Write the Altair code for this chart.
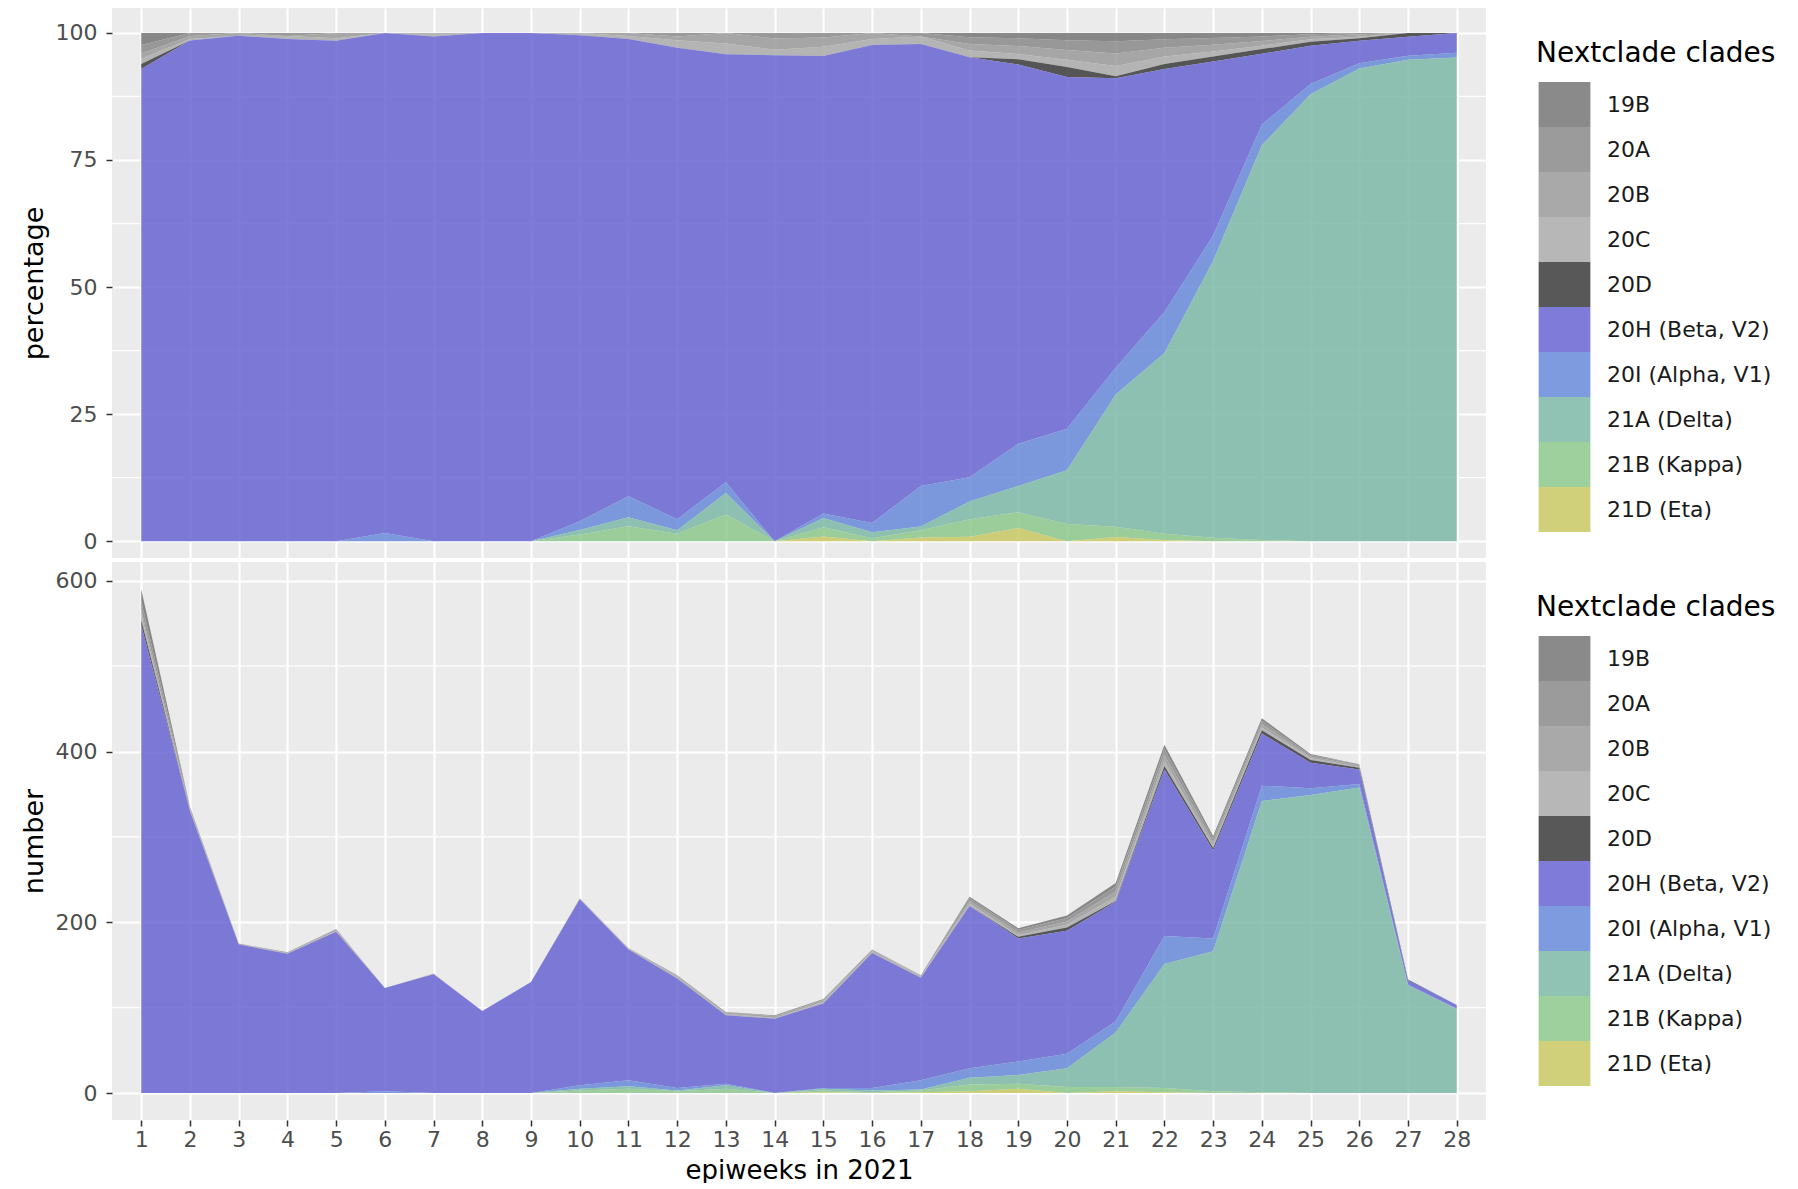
import altair as alt
import pandas as pd

# ---------------- data ----------------
weeks = list(range(1, 29))

clades = ["19B", "20A", "20B", "20C", "20D",
          "20H (Beta, V2)", "20I (Alpha, V1)", "21A (Delta)", "21B (Kappa)", "21D (Eta)"]

clade_colors = ["#757575", "#898989", "#9a9a9a", "#aaaaaa", "#3b3b3b",
                "#6764d2", "#6789d9", "#7eb8a8", "#8dc88d", "#c8c864"]

n_19B = [14, 0, 0, 0, 0, 0, 0, 0, 0, 0, 0, 0, 0, 0, 0, 0, 0, 2, 2, 3, 4, 5, 3, 3, 1, 0, 0, 0]
n_20A = [10, 2, 0, 1, 0, 0, 0, 0, 0, 0, 0, 1, 0, 1, 1, 0, 1, 3, 3, 4, 6, 7, 4, 4, 2, 1, 0, 0]
n_20B = [6, 2, 1, 0, 2, 0, 0, 0, 0, 0, 1, 1, 2, 2, 2, 2, 0, 3, 3, 4, 6, 7, 4, 4, 2, 2, 0, 0]
n_20C = [6, 1, 0, 1, 1, 0, 1, 0, 0, 1, 1, 2, 2, 1, 2, 2, 2, 3, 2, 3, 5, 6, 3, 3, 2, 1, 0, 0]
n_20D = [6, 0, 0, 0, 0, 0, 0, 0, 0, 0, 0, 0, 0, 0, 0, 0, 0, 0, 2, 4, 1, 4, 3, 4, 3, 2, 1, 0]
n_20H = [548, 330, 174, 163, 189, 121, 139, 96, 130, 218, 153, 128, 80, 87, 99, 158, 120, 190,
         144, 144, 140, 195, 103, 61, 30, 17, 5, 4]
n_20I = [0, 0, 0, 0, 0, 2, 0, 0, 0, 4, 7, 3, 2, 0, 1, 3, 11, 11, 16, 17, 13, 33, 15, 18, 8, 4, 1, 1]
n_21A = [0, 0, 0, 0, 0, 0, 0, 0, 0, 2, 3, 1, 4, 0, 2, 2, 1, 8, 10, 22, 64, 145, 164, 341, 349, 358, 126, 98]
n_21B = [0, 0, 0, 0, 0, 0, 0, 0, 0, 3, 5, 2, 5, 0, 2, 1, 2, 8, 6, 7, 5, 5, 2, 1, 0, 0, 0, 0]
n_21D = [0, 0, 0, 0, 0, 0, 0, 0, 0, 0, 0, 0, 0, 0, 1, 0, 1, 2, 5, 0, 2, 1, 0, 0, 0, 0, 0, 0]

series = [n_19B, n_20A, n_20B, n_20C, n_20D, n_20H, n_20I, n_21A, n_21B, n_21D]

pct_major = [0, 25, 50, 75, 100]
pct_minor = [12.5, 37.5, 62.5, 87.5]
num_major = [0, 200, 400, 600]
num_minor = [100, 300, 500]

rows = []
for i, (c, vals) in enumerate(zip(clades, series)):
    for w, n in zip(weeks, vals):
        rows.append({"week": w, "clade": c, "n": n, "rank": i})
df = pd.DataFrame(rows)

# ---------------- styling ----------------
FONT = "DejaVu Sans"
W = 1374
H_TOP = 550
H_BOT = 558
x_scale = alt.Scale(domain=[0.4, 28.6], nice=False, zero=False)
y_top_scale = alt.Scale(domain=[-3.3, 104.9], nice=False, zero=False)
y_bot_scale = alt.Scale(domain=[-31.6, 622], nice=False, zero=False)


def make_legend():
    return alt.Legend(
        title="Nextclade clades",
        orient="none", legendX=1424, legendY=32,
        symbolType="M-1.15,-1H1.15V1H-1.15Z",
        symbolSize=2025, symbolStrokeWidth=0, symbolOpacity=0.85,
        symbolOffset=6, labelOffset=20, rowPadding=0, padding=0,
        titleFont=FONT, labelFont=FONT, titleFontSize=28, labelFontSize=22,
        titleFontWeight="normal", titleColor="black", labelColor="#1a1a1a",
        titlePadding=14, labelLimit=400, titleLimit=400,
    )


def color_enc():
    return alt.Color("clade:N", scale=alt.Scale(domain=clades, range=clade_colors),
                     legend=make_legend())


top_y_axis = alt.Axis(values=pct_major, title="percentage", grid=True)
bot_y_axis = alt.Axis(values=num_major, title="number", grid=True)

# ---------------- top panel: percentage ----------------
minor_top = alt.Chart(pd.DataFrame({"v": pct_minor})).mark_rule(
    color="white", strokeWidth=1.2
).encode(y=alt.Y("v:Q", scale=y_top_scale, axis=top_y_axis, title="percentage"))

area_top = alt.Chart(df).transform_joinaggregate(
    total="sum(n)", groupby=["week"]
).transform_calculate(
    pct="datum.n / datum.total * 100"
).mark_area(opacity=0.85, interpolate="linear").encode(
    x=alt.X("week:Q", scale=x_scale,
            axis=alt.Axis(values=weeks, labels=False, ticks=False, domain=False,
                          grid=True, title=None)),
    y=alt.Y("pct:Q", stack="zero", scale=y_top_scale, axis=top_y_axis, title="percentage"),
    color=color_enc(),
    order=alt.Order("rank:Q", sort="descending"),
)

top = alt.layer(minor_top, area_top).properties(width=W, height=H_TOP)

# ---------------- bottom panel: number ----------------
minor_bot = alt.Chart(pd.DataFrame({"v": num_minor})).mark_rule(
    color="white", strokeWidth=1.2
).encode(y=alt.Y("v:Q", scale=y_bot_scale, axis=bot_y_axis, title="number"))

area_bot = alt.Chart(df).mark_area(opacity=0.85, interpolate="linear").encode(
    x=alt.X("week:Q", scale=x_scale,
            axis=alt.Axis(values=weeks, title="epiweeks in 2021", grid=True,
                          labelPadding=3, titlePadding=7, titleFontSize=26)),
    y=alt.Y("n:Q", stack="zero", scale=y_bot_scale, axis=bot_y_axis, title="number"),
    color=color_enc(),
    order=alt.Order("rank:Q", sort="descending"),
)

bottom = alt.layer(minor_bot, area_bot).properties(width=W, height=H_BOT)

chart = alt.vconcat(top, bottom, spacing=4).resolve_scale(
    color="independent", x="independent", y="independent"
).resolve_legend(color="independent").properties(
    padding={"left": 12, "top": 0, "right": 0, "bottom": 0},
    background="white",
).configure_view(
    fill="#EBEBEB", stroke=None
).configure_axis(
    labelFont=FONT, titleFont=FONT, labelFontSize=22, titleFontSize=27,
    labelColor="#4D4D4D", titleColor="black", titleFontWeight="normal",
    tickColor="#333333", tickWidth=1.5, tickSize=6, labelPadding=9,
    titlePadding=7, domain=False, gridColor="white", gridWidth=2.2,
)

chart.save("out.html", embed_options={"renderer": "svg", "actions": False})
